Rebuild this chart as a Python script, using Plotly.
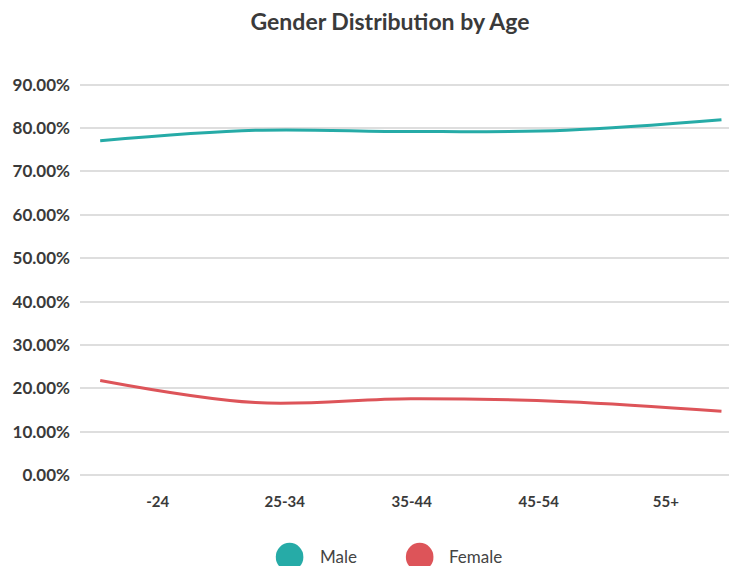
import plotly.graph_objects as go

age_groups = ["-24", "25-34", "35-44", "45-54", "55+"]
male_pct = [77.1, 79.5, 79.2, 79.5, 81.9]
female_pct = [21.8, 16.7, 17.6, 16.9, 14.7]
y_ticks = [0, 10, 20, 30, 40, 50, 60, 70, 80, 90]

TEAL = "#26aba7"
RED = "#dd5459"

idx = list(range(len(age_groups)))
# label positions (band centres used by the original chart)
label_pos = [0.37 + 0.818 * i for i in idx]

fig = go.Figure()
fig.add_trace(go.Scatter(x=idx, y=male_pct, mode="lines", name="Male",
                         line=dict(color=TEAL, width=3, shape="spline", smoothing=1.0),
                         showlegend=False))
fig.add_trace(go.Scatter(x=idx, y=female_pct, mode="lines", name="Female",
                         line=dict(color=RED, width=3, shape="spline", smoothing=1.0),
                         showlegend=False))

# legend drawn manually (circle + label)
legend_items = [("Male", TEAL, 0.298, 0.362), ("Female", RED, 0.496, 0.558)]
for name, col, x0, tx in legend_items:
    fig.add_shape(type="circle", xref="paper", yref="paper",
                  x0=x0, x1=x0 + 0.042, y0=-0.245, y1=-0.173,
                  fillcolor=col, line=dict(width=0))
    fig.add_annotation(text=name, xref="paper", yref="paper", x=tx, y=-0.207,
                       xanchor="left", yanchor="middle", showarrow=False,
                       font=dict(family="Lato", size=17, color="#444444"))

fig.update_layout(
    width=729, height=558,
    margin=dict(l=72, r=0, t=75, b=91),
    paper_bgcolor="white", plot_bgcolor="white",
    title=dict(text="<b>Gender Distribution by Age</b>", x=0.524, xanchor="center",
               y=0.975, yanchor="middle",
               font=dict(family="Lato", size=23, color="#3a3a3a")),
    showlegend=False,
)
fig.update_xaxes(range=[-0.13, 4.1], tickvals=label_pos, ticktext=age_groups,
                 showgrid=False, zeroline=False, showline=False,
                 ticks="outside", ticklen=13, tickcolor="rgba(0,0,0,0)",
                 tickfont=dict(family="Lato", size=15, color="#3a3a3a", weight="bold"))
fig.update_yaxes(range=[0, 90.4], tickvals=y_ticks,
                 ticktext=[f"{v:.2f}%" for v in y_ticks],
                 showgrid=True, gridcolor="#dedede", gridwidth=1.5,
                 zeroline=True, zerolinecolor="#dedede", zerolinewidth=1.5,
                 showline=False, ticks="", ticklabelstandoff=9,
                 tickfont=dict(family="Lato", size=17, color="#3a3a3a", weight="bold"))

fig.write_html("out.html")
